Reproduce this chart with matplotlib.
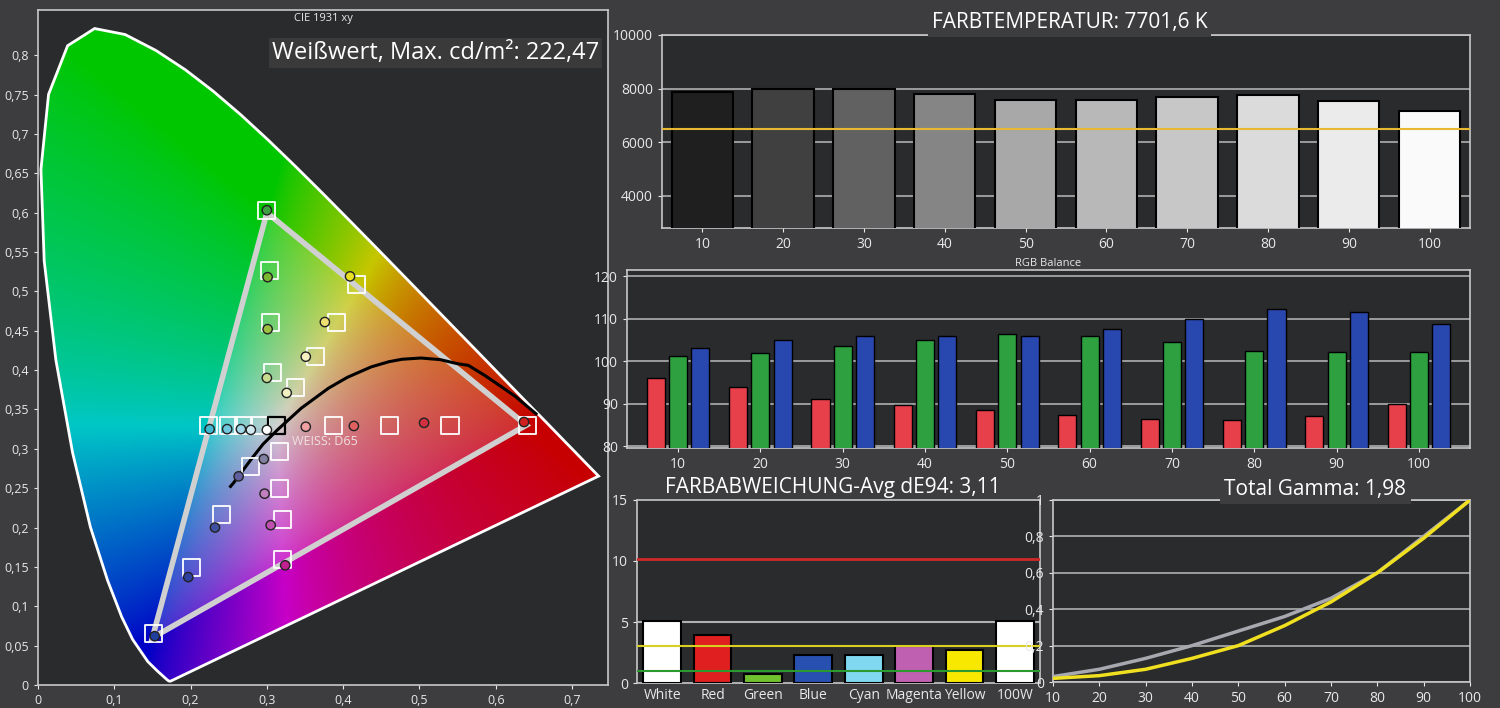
import numpy as np
import matplotlib
matplotlib.use("Agg")
import matplotlib.pyplot as plt
from matplotlib.patches import Polygon

plt.rcParams['font.family'] = ['Open Sans', 'DejaVu Sans']

# ---------------- data ----------------
locus_x = [0.1741,0.1738,0.1733,0.1714,0.1689,0.1644,0.1566,0.1440,0.1241,0.1096,0.0913,0.0687,0.0454,0.0235,0.0082,0.0039,0.0139,0.0389,0.0743,0.1142,0.1547,0.1929,0.2296,0.2658,0.3016,0.3373,0.3731,0.4087,0.4441,0.4788,0.5125,0.5448,0.5752,0.6029,0.6270,0.6482,0.6658,0.6801,0.6915,0.7006,0.7079,0.7190,0.7347]
locus_y = [0.0050,0.0049,0.0048,0.0051,0.0069,0.0109,0.0177,0.0297,0.0578,0.0868,0.1327,0.2007,0.2950,0.4127,0.5384,0.6548,0.7502,0.8120,0.8338,0.8262,0.8059,0.7816,0.7543,0.7243,0.6923,0.6589,0.6245,0.5896,0.5547,0.5202,0.4866,0.4544,0.4242,0.3965,0.3725,0.3514,0.3340,0.3197,0.3083,0.2993,0.2920,0.2809,0.2653]
gamut_x = [0.64, 0.30, 0.15]
gamut_y = [0.33, 0.60, 0.06]
planck_x = [0.2524,0.2565,0.2807,0.2950,0.3135,0.3451,0.3805,0.4053,0.4369,0.4599,0.4770,0.5018,0.5269,0.5497,0.5640,0.5857,0.5992,0.6250,0.6528]
planck_y = [0.2522,0.2569,0.2883,0.3059,0.3237,0.3516,0.3768,0.3907,0.4041,0.4106,0.4137,0.4153,0.4133,0.4081,0.4060,0.3931,0.3842,0.3670,0.3444]
target_x = [0.300,0.304,0.305,0.307, 0.418,0.391,0.364,0.337, 0.224,0.250,0.269,0.291, 0.387,0.461,0.540,0.641, 0.279,0.241,0.201,0.151, 0.317,0.317,0.320,0.321]
target_y = [0.603,0.527,0.461,0.397, 0.509,0.461,0.417,0.378, 0.330,0.330,0.330,0.330, 0.330,0.330,0.330,0.330, 0.277,0.217,0.149,0.065, 0.296,0.250,0.210,0.159]
white_target = (0.3127, 0.329)
meas_x = [0.300,0.301,0.301,0.300,0.326, 0.409,0.376,0.351, 0.225,0.248,0.266,0.279,0.300, 0.351,0.414,0.506,0.637, 0.296,0.263,0.232,0.197,0.153, 0.297,0.305,0.324]
meas_y = [0.603,0.518,0.452,0.390,0.371, 0.519,0.461,0.417, 0.325,0.325,0.325,0.324,0.324, 0.328,0.329,0.333,0.334, 0.287,0.265,0.200,0.137,0.062, 0.243,0.203,0.152]
meas_c = ['#3aa040','#7ab830','#9cc040','#c8dc90','#f0f0c0', '#e8e020','#f0e070','#f8f0c0',
          '#40b8d0','#70c8e0','#a0d8e8','#d0e8f0','#ffffff', '#f0a0a0','#e06060','#d03040','#d02020',
          '#8080a0','#6060a0','#4050a0','#3040a0','#2040a0', '#c080c0','#c050b0','#c02090']

steps = [10, 20, 30, 40, 50, 60, 70, 80, 90, 100]
cct = [7887, 7998, 7998, 7811, 7585, 7585, 7698, 7774, 7547, 7170]
cct_target = 6504
rgb_r = [96.0, 93.9, 91.0, 89.6, 88.4, 87.3, 86.4, 86.1, 87.0, 90.0]
rgb_g = [101.2, 101.9, 103.5, 104.9, 106.4, 105.9, 104.5, 102.5, 102.2, 102.2]
rgb_b = [103.0, 105.0, 106.0, 106.0, 106.0, 107.5, 109.9, 112.3, 111.5, 108.7]
de_labels = ['White', 'Red', 'Green', 'Blue', 'Cyan', 'Magenta', 'Yellow', '100W']
de_values = [5.1, 3.95, 0.7, 2.3, 2.3, 3.05, 2.7, 5.1]
de_colors = ['#ffffff', '#e02020', '#70c030', '#2850b0', '#80d8f0', '#c060b0', '#f8e800', '#ffffff']
gamma_meas = [0.03, 0.07, 0.13, 0.20, 0.28, 0.36, 0.46, 0.60, 0.80, 1.0]
gamma_target = [0.02, 0.035, 0.07, 0.13, 0.20, 0.31, 0.44, 0.60, 0.79, 1.0]

BG = '#3d3d3f'
AXBG = '#2a2b2d'
TXT = '#e8e8e8'

fig = plt.figure(figsize=(15, 7.08), dpi=100, facecolor=BG)

def style(ax):
    ax.set_facecolor(AXBG)
    for s in ax.spines.values():
        s.set_color('#c8c8c8')
        s.set_linewidth(1.2)
    ax.tick_params(colors=TXT, labelsize=10, length=3)

# ---------------- CIE ----------------
ax = fig.add_axes([0.0253, 0.0325, 0.38, 0.953])
style(ax)
xmax, ymax = 0.747, 0.857
gx, gy = np.meshgrid(np.linspace(0.001, xmax, 500), np.linspace(0.001, ymax, 560))
X = gx / gy; Y = np.ones_like(gx); Z = (1 - gx - gy) / gy
M = np.array([[3.2406, -1.5372, -0.4986], [-0.9689, 1.8758, 0.0415], [0.0557, -0.2040, 1.0570]])
rgb = np.stack([M[i, 0]*X + M[i, 1]*Y + M[i, 2]*Z for i in range(3)], -1)
rgb = np.clip(rgb, 0, None)
rgb = rgb / rgb.max(axis=-1, keepdims=True)
rgb = np.where(rgb <= 0.0031308, 12.92*rgb, 1.055*np.power(rgb, 1/2.4) - 0.055)
rgb = np.clip(np.power(rgb, 1.6) * 0.78, 0, 1)
im = ax.imshow(rgb, origin='lower', extent=[0.001, xmax, 0.001, ymax], aspect='auto', zorder=1, interpolation='bilinear')
poly = Polygon(np.column_stack([locus_x, locus_y]), closed=True, facecolor='none', edgecolor='white', lw=2, zorder=3)
ax.add_patch(poly)
im.set_clip_path(poly)
tri = Polygon(np.column_stack([gamut_x, gamut_y]), closed=True, facecolor='white', alpha=0.18, edgecolor='none', zorder=2)
ax.add_patch(tri)
ax.add_patch(Polygon(np.column_stack([gamut_x, gamut_y]), closed=True, facecolor='none', edgecolor='#d0d0d0', lw=4, zorder=4))
ax.plot(planck_x, planck_y, color='black', lw=2.2, zorder=5)
ax.scatter(target_x, target_y, marker='s', s=150, facecolor='none', edgecolor='white', lw=1.3, zorder=6)
ax.scatter([white_target[0]], [white_target[1]], marker='s', s=150, facecolor='none', edgecolor='black', lw=1.6, zorder=6)
ax.scatter(meas_x, meas_y, marker='o', s=45, c=meas_c, edgecolor='#222222', lw=1, zorder=7)
ax.text(0.333, 0.305, 'WEISS: D65', color='#f0e0e0', fontsize=9, zorder=8)
ax.set_xlim(0, xmax); ax.set_ylim(0, ymax)
ax.set_xticks([0, 0.1, 0.2, 0.3, 0.4, 0.5, 0.6, 0.7])
ax.set_xticklabels(['0', '0,1', '0,2', '0,3', '0,4', '0,5', '0,6', '0,7'])
yt = np.round(np.arange(0, 0.81, 0.05), 2)
ax.set_yticks(yt)
ax.set_yticklabels(['0'] + [('%g' % v).replace('.', ',') for v in yt[1:]])
ax.tick_params(labelsize=9)
ax.text(0.5, 0.988, 'CIE 1931 xy', color=TXT, fontsize=8, ha='center', va='center', transform=ax.transAxes, zorder=9)
ax.text(0.735, 0.803, 'Weißwert, Max. cd/m²: 222,47', color='white', fontsize=17, ha='right', va='center',
        bbox=dict(facecolor='#3a3a3a', edgecolor='none', pad=2), zorder=9)

# ---------------- Farbtemperatur ----------------
ax = fig.add_axes([0.4413, 0.678, 0.5387, 0.2726])
style(ax)
shades = [0.12, 0.25, 0.38, 0.52, 0.66, 0.72, 0.78, 0.86, 0.92, 0.98]
for i, (s, v) in enumerate(zip(steps, cct)):
    ax.bar(s, v, width=7.6, color=str(shades[i]), edgecolor='black', lw=1.5, zorder=3)
ax.axhline(cct_target, color='#e8b830', lw=1.5, zorder=4)
ax.set_ylim(2790, 10000); ax.set_xlim(5, 105)
ax.set_yticks([4000, 6000, 8000, 10000])
ax.set_xticks(steps)
ax.yaxis.grid(True, color='#b0b0b0', lw=1.2, zorder=0)
fig.text(0.713, 0.968, 'FARBTEMPERATUR: 7701,6 K', color='white', fontsize=15, ha='center', va='center',
         bbox=dict(facecolor=BG, edgecolor='none', pad=3))

# ---------------- RGB Balance ----------------
ax = fig.add_axes([0.418, 0.367, 0.562, 0.251])
style(ax)
xs = np.arange(len(steps))
w = 0.22
ax.bar(xs - 0.27, rgb_r, w, color='#e8404a', edgecolor='black', lw=1, zorder=3)
ax.bar(xs, rgb_g, w, color='#2ea040', edgecolor='black', lw=1, zorder=3)
ax.bar(xs + 0.27, rgb_b, w, color='#2848b0', edgecolor='black', lw=1, zorder=3)
ax.set_ylim(79.5, 121.4); ax.set_xlim(-0.62, 9.62)
ax.set_yticks([80, 90, 100, 110, 120])
ax.set_xticks(xs); ax.set_xticklabels([str(s) for s in steps])
ax.yaxis.grid(True, color='#b0b0b0', lw=1.2, zorder=0)
ax.set_title('RGB Balance', color=TXT, fontsize=8, pad=3)

# ---------------- dE94 ----------------
ax = fig.add_axes([0.4247, 0.0353, 0.2686, 0.2585])
style(ax)
xd = np.arange(len(de_labels))
ax.bar(xd, de_values, 0.75, color=de_colors, edgecolor='black', lw=1.5, zorder=3)
ax.axhline(10.2, color='#d02828', lw=2, zorder=4)
ax.axhline(5, color='#b0b0b0', lw=1.5, zorder=2)
ax.axhline(3, color='#d8d020', lw=1.5, zorder=4)
ax.axhline(1, color='#2a9a30', lw=1.5, zorder=4)
ax.set_ylim(0, 15); ax.set_xlim(-0.5, 7.5)
ax.set_yticks([0, 5, 10, 15])
ax.set_xticks(xd); ax.set_xticklabels(de_labels)
ax.tick_params(axis='x', length=0, labelsize=10)
fig.text(0.555, 0.312, 'FARBABWEICHUNG-Avg dE94: 3,11', color='white', fontsize=15, ha='center', va='center')

# ---------------- Gamma ----------------
ax = fig.add_axes([0.702, 0.0367, 0.278, 0.2571])
style(ax)
ax.plot(steps, gamma_meas, color='#a8a8b0', lw=2.5, zorder=3)
ax.plot(steps, gamma_target, color='#f0e020', lw=2.5, zorder=4)
ax.set_xlim(10, 100); ax.set_ylim(0, 1)
ax.set_xticks(steps)
ax.set_yticks([0, 0.2, 0.4, 0.6, 0.8, 1])
ax.set_yticklabels(['0', '0,2', '0,4', '0,6', '0,8', '1'])
ax.yaxis.grid(True, color='#b0b0b0', lw=1.2, zorder=0)
fig.text(0.877, 0.309, 'Total Gamma: 1,98', color='white', fontsize=15, ha='center', va='center',
         bbox=dict(facecolor=BG, edgecolor='none', pad=3))

fig.savefig('out.png', dpi=100, facecolor=BG)
